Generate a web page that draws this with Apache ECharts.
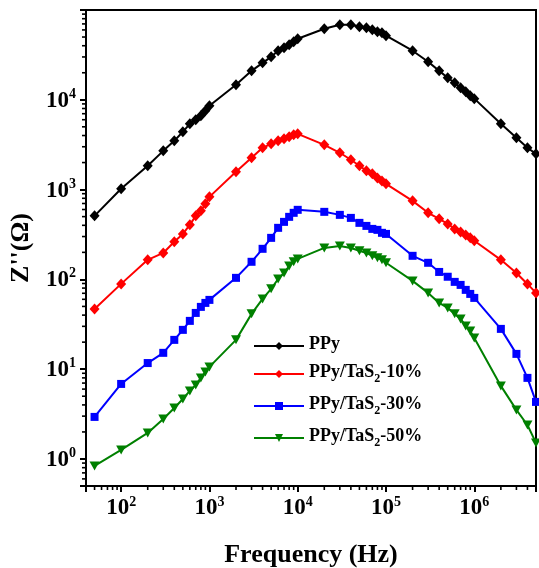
<!DOCTYPE html>
<html>
<head>
<meta charset="utf-8">
<script src="https://cdn.jsdelivr.net/npm/echarts@6/dist/echarts.min.js"></script>
<style>
html,body{margin:0;padding:0;background:#fff;}
#chart{width:539px;height:568px;}
</style>
</head>
<body>
<div id="chart"></div>
<script>
// Frequency (Hz)
var freq = [50,100,200,300,400,500,600,700,800,900,
  1000,2000,3000,4000,5000,6000,7000,8000,9000,
  10000,20000,30000,40000,50000,60000,70000,80000,90000,
  100000,200000,300000,400000,500000,600000,700000,800000,900000,
  1000000,2000000,3000000,4000000,5000000];
// Z'' (Ohm)
var zPPy = [510,1020,1840,2700,3490,4400,5400,5990,6630,7540,
  8570,14700,21000,25800,30100,35200,38000,41000,44300,
  47800,61800,68500,68500,65100,63400,60300,57200,55800,
  51700,35200,26500,21000,17600,15500,13600,12300,11100,
  10300,5400,3770,2920,2500];
var z10 = [46.9,89.1,165,197,262,321,405,510,580,694,
  830,1580,2260,2920,3230,3490,3680,3870,4070,
  4180,3150,2570,2150,1840,1620,1500,1350,1250,
  1160,749,551,472,415,365,338,313,290,
  269,165,118,89,70.7];
var z30 = [2.94,6.85,11.7,15.2,21.2,27.4,34.5,42.3,49.4,54.7,
  59.1,104,157,219,290,375,437,497,551,
  595,565,523,484,426,394,365,356,330,
  321,183,153,121,107,93.8,86.8,76.4,68.9,
  62.2,28.1,14.8,8.0,4.32];
var z50 = [0.836,1.26,1.95,2.79,3.70,4.66,5.72,6.68,7.99,9.32,
  10.6,21.2,41.3,60.6,78.4,101,118,141,157,
  169,224,236,224,208,197,183,174,165,
  153,96.2,70.7,54.7,48.1,41.3,36.3,30.3,26.7,
  22.3,6.51,3.52,2.39,1.51];
var seriesNames = ['PPy','PPy/TaS2-10%','PPy/TaS2-30%','PPy/TaS2-50%'];
var xMin = 40, xMax = 5000000, yMin = 0.5, yMax = 100000;

function pairs(ys){ return freq.map(function(f,i){ return [f, ys[i]]; }); }

var FONT = 'Liberation Serif';
function makeFormatter(maxV){
  return function(v){
    if (v >= maxV * 0.999) return '';
    var lg = Math.log10(v);
    var r = Math.round(lg);
    if (Math.abs(lg - r) < 1e-6) return '{b|10}{s|' + r + '}';
    return '';
  };
}
var labelRich = {
  b:{fontSize:23,fontWeight:'bold',fontFamily:FONT,color:'#000',lineHeight:25,verticalAlign:'bottom'},
  s:{fontSize:14,fontWeight:'bold',fontFamily:FONT,color:'#000',lineHeight:25,verticalAlign:'top',padding:[0,0,8,0]}
};

var chart = echarts.init(document.getElementById('chart'), null, {renderer:'canvas'});
var option = {
  animation:false,
  backgroundColor:'#fff',
  grid:{left:86, top:10, width:450, height:476, show:true, borderColor:'#000', borderWidth:2,
        backgroundColor:'transparent', containLabel:false, outerBoundsMode:'none'},
  xAxis:{
    type:'log', min:xMin, max:xMax, logBase:10,
    name:'Frequency (Hz)', nameLocation:'middle', nameGap:56,
    nameTextStyle:{fontSize:26,fontWeight:'bold',fontFamily:FONT,color:'#000'},
    axisLine:{show:true,lineStyle:{color:'#000',width:2}},
    axisTick:{show:true,inside:false,length:6,lineStyle:{color:'#000',width:2}},
    axisLabel:{formatter:makeFormatter(xMax), rich:labelRich, margin:9, hideOverlap:false, showMinLabel:true, showMaxLabel:true},
    splitLine:{show:false}, minorTick:{show:false}
  },
  yAxis:{
    type:'log', min:yMin, max:yMax, logBase:10,
    name:"Z''(Ω)", nameLocation:'middle', nameGap:52, nameRotate:90,
    nameTextStyle:{fontSize:26,fontWeight:'bold',fontFamily:FONT,color:'#000'},
    axisLine:{show:true,lineStyle:{color:'#000',width:2}},
    axisTick:{show:true,inside:false,length:6,lineStyle:{color:'#000',width:2}},
    axisLabel:{formatter:makeFormatter(yMax), rich:labelRich, margin:10, hideOverlap:false},
    splitLine:{show:false}, minorTick:{show:false}
  },
  legend:{
    orient:'vertical', left:248, top:330, itemWidth:50, itemHeight:10, itemGap:10,
    data:seriesNames,
    formatter:function(name){
      if (name.indexOf('TaS2') < 0) return '{a|' + name + '}';
      var parts = name.split('TaS2');
      return '{a|' + parts[0] + 'TaS}{sub|2}{a|' + parts[1] + '}';
    },
    textStyle:{
      fontSize:18,fontWeight:'bold',fontFamily:FONT,color:'#000',
      rich:{
        a:{fontSize:18,fontWeight:'bold',fontFamily:FONT,color:'#000',lineHeight:22,verticalAlign:'top'},
        sub:{fontSize:12,fontWeight:'bold',fontFamily:FONT,color:'#000',lineHeight:22,verticalAlign:'bottom',padding:[8,0,0,0]}
      }
    }
  },
  series:[
    {name:seriesNames[0], type:'line', data:pairs(zPPy), color:'#000000', symbol:'diamond', symbolSize:[10,11], lineStyle:{width:2}, smooth:false},
    {name:seriesNames[1], type:'line', data:pairs(z10), color:'#ff0000', symbol:'diamond', symbolSize:[10,11], lineStyle:{width:2}, smooth:false},
    {name:seriesNames[2], type:'line', data:pairs(z30), color:'#0000ff', symbol:'rect', symbolSize:8, lineStyle:{width:2}, smooth:false},
    {name:seriesNames[3], type:'line', data:pairs(z50), color:'#008000', symbol:'triangle', symbolRotate:180, symbolSize:[10,9], lineStyle:{width:2}, smooth:false}
  ]
};
chart.setOption(option);

// logarithmic minor ticks, positioned through the axis scales
function drawMinorTicks(){
  var els = [];
  var yAxisPix = chart.convertToPixel({yAxisIndex:0}, yMin);
  var xAxisPix = chart.convertToPixel({xAxisIndex:0}, xMin);
  var d, k, v, p;
  for (d = 1; d <= 6; d++) {
    for (k = 2; k <= 9; k++) {
      v = k * Math.pow(10, d);
      if (v < xMin - 1e-9 || v > xMax + 1e-9) continue;
      p = chart.convertToPixel({xAxisIndex:0}, v);
      els.push({type:'line', silent:true, shape:{x1:p, y1:yAxisPix, x2:p, y2:yAxisPix + 4}, style:{stroke:'#000', lineWidth:1.6}});
    }
  }
  for (d = -1; d <= 4; d++) {
    for (k = 2; k <= 9; k++) {
      v = k * Math.pow(10, d);
      if (v < yMin - 1e-9 || v > yMax + 1e-9) continue;
      p = chart.convertToPixel({yAxisIndex:0}, v);
      els.push({type:'line', silent:true, shape:{x1:xAxisPix - 4, y1:p, x2:xAxisPix, y2:p}, style:{stroke:'#000', lineWidth:1.6}});
    }
  }
  chart.setOption({graphic:{elements:els}});
}
drawMinorTicks();
</script>
</body>
</html>
